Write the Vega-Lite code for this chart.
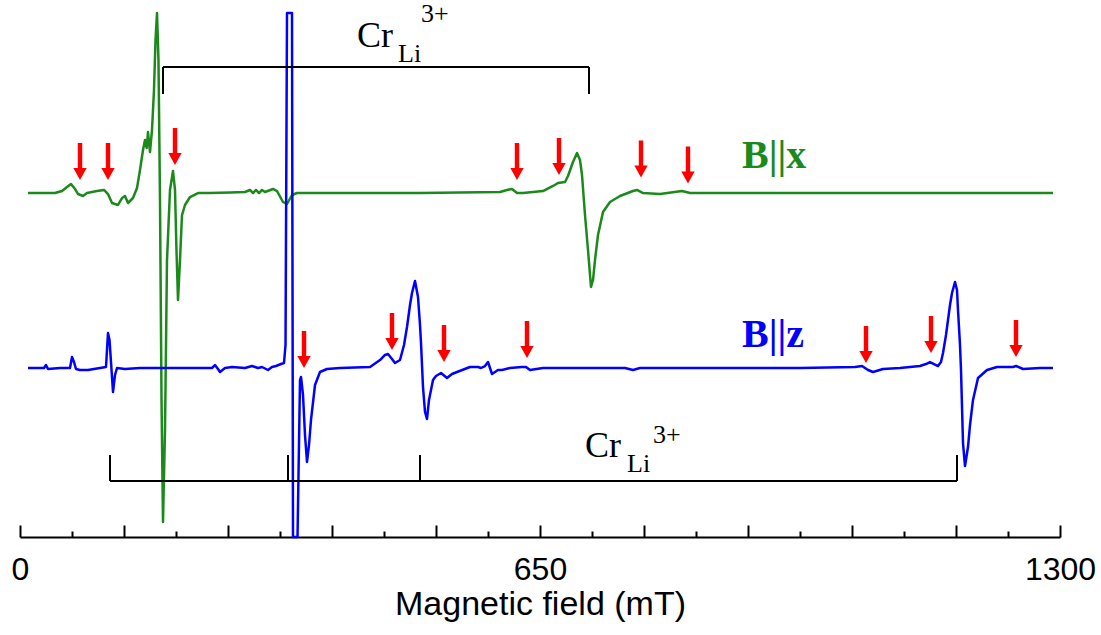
{
  "$schema": "https://vega.github.io/schema/vega-lite/v6.json",
  "width": 1040,
  "height": 525,
  "autosize": "none",
  "padding": {"left": 20, "top": 12, "right": 41, "bottom": 98},
  "config": {"view": {"stroke": null}},
  "datasets": {
    "spectra": [
      {"orientation": "B||x", "field": 10, "signal": 65.52},
      {"orientation": "B||x", "field": 43.75, "signal": 65.52},
      {"orientation": "B||x", "field": 52.5, "signal": 65.9},
      {"orientation": "B||x", "field": 58.75, "signal": 66.67},
      {"orientation": "B||x", "field": 63.75, "signal": 67.24},
      {"orientation": "B||x", "field": 68.75, "signal": 66.29},
      {"orientation": "B||x", "field": 72.5, "signal": 65.33},
      {"orientation": "B||x", "field": 78.75, "signal": 64.95},
      {"orientation": "B||x", "field": 83.75, "signal": 65.52},
      {"orientation": "B||x", "field": 90, "signal": 65.71},
      {"orientation": "B||x", "field": 96.25, "signal": 65.9},
      {"orientation": "B||x", "field": 105, "signal": 66.1},
      {"orientation": "B||x", "field": 110, "signal": 65.33},
      {"orientation": "B||x", "field": 115, "signal": 63.62},
      {"orientation": "B||x", "field": 122.5, "signal": 63.24},
      {"orientation": "B||x", "field": 127.5, "signal": 64.57},
      {"orientation": "B||x", "field": 131.25, "signal": 64.95},
      {"orientation": "B||x", "field": 135, "signal": 63.62},
      {"orientation": "B||x", "field": 141.25, "signal": 64.57},
      {"orientation": "B||x", "field": 146.25, "signal": 66.48},
      {"orientation": "B||x", "field": 150, "signal": 69.9},
      {"orientation": "B||x", "field": 153.75, "signal": 73.71},
      {"orientation": "B||x", "field": 156.25, "signal": 75.62},
      {"orientation": "B||x", "field": 158.4, "signal": 74.1},
      {"orientation": "B||x", "field": 160, "signal": 77.14},
      {"orientation": "B||x", "field": 162.5, "signal": 73.33},
      {"orientation": "B||x", "field": 165, "signal": 77.52},
      {"orientation": "B||x", "field": 167.5, "signal": 85.14},
      {"orientation": "B||x", "field": 169.4, "signal": 94.67},
      {"orientation": "B||x", "field": 171.25, "signal": 99.81},
      {"orientation": "B||x", "field": 173.1, "signal": 90.86},
      {"orientation": "B||x", "field": 175, "signal": 64.19},
      {"orientation": "B||x", "field": 176.9, "signal": 26.1},
      {"orientation": "B||x", "field": 178.75, "signal": 2.86},
      {"orientation": "B||x", "field": 181.25, "signal": 20.38},
      {"orientation": "B||x", "field": 183.75, "signal": 52.76},
      {"orientation": "B||x", "field": 187.5, "signal": 66.1},
      {"orientation": "B||x", "field": 191.25, "signal": 69.71},
      {"orientation": "B||x", "field": 193.75, "signal": 66.1},
      {"orientation": "B||x", "field": 195.6, "signal": 54.67},
      {"orientation": "B||x", "field": 197.5, "signal": 45.14},
      {"orientation": "B||x", "field": 200, "signal": 52.76},
      {"orientation": "B||x", "field": 202.5, "signal": 61.33},
      {"orientation": "B||x", "field": 206.25, "signal": 63.24},
      {"orientation": "B||x", "field": 212.5, "signal": 64.76},
      {"orientation": "B||x", "field": 222.5, "signal": 65.52},
      {"orientation": "B||x", "field": 237.5, "signal": 65.52},
      {"orientation": "B||x", "field": 262.5, "signal": 65.62},
      {"orientation": "B||x", "field": 281.25, "signal": 65.71},
      {"orientation": "B||x", "field": 287.5, "signal": 66.1},
      {"orientation": "B||x", "field": 291.25, "signal": 65.52},
      {"orientation": "B||x", "field": 295, "signal": 66.1},
      {"orientation": "B||x", "field": 298.75, "signal": 65.52},
      {"orientation": "B||x", "field": 302.5, "signal": 66.1},
      {"orientation": "B||x", "field": 306.25, "signal": 65.71},
      {"orientation": "B||x", "field": 316.25, "signal": 66.29},
      {"orientation": "B||x", "field": 321.25, "signal": 65.9},
      {"orientation": "B||x", "field": 328.75, "signal": 63.81},
      {"orientation": "B||x", "field": 333.75, "signal": 63.43},
      {"orientation": "B||x", "field": 340, "signal": 65.14},
      {"orientation": "B||x", "field": 346.25, "signal": 65.52},
      {"orientation": "B||x", "field": 387.5, "signal": 65.52},
      {"orientation": "B||x", "field": 500, "signal": 65.52},
      {"orientation": "B||x", "field": 600, "signal": 65.71},
      {"orientation": "B||x", "field": 608.75, "signal": 66.1},
      {"orientation": "B||x", "field": 615, "signal": 66.29},
      {"orientation": "B||x", "field": 621.25, "signal": 65.52},
      {"orientation": "B||x", "field": 628.75, "signal": 65.52},
      {"orientation": "B||x", "field": 641.25, "signal": 65.71},
      {"orientation": "B||x", "field": 653.75, "signal": 65.9},
      {"orientation": "B||x", "field": 666.25, "signal": 66.86},
      {"orientation": "B||x", "field": 672.5, "signal": 67.43},
      {"orientation": "B||x", "field": 681.25, "signal": 67.62},
      {"orientation": "B||x", "field": 685, "signal": 68.76},
      {"orientation": "B||x", "field": 691.25, "signal": 71.43},
      {"orientation": "B||x", "field": 696.25, "signal": 73.14},
      {"orientation": "B||x", "field": 700, "signal": 71.81},
      {"orientation": "B||x", "field": 702.5, "signal": 68.95},
      {"orientation": "B||x", "field": 706.25, "signal": 61.33},
      {"orientation": "B||x", "field": 710, "signal": 54.67},
      {"orientation": "B||x", "field": 713.75, "signal": 47.62},
      {"orientation": "B||x", "field": 716.25, "signal": 48.95},
      {"orientation": "B||x", "field": 718.75, "signal": 52.76},
      {"orientation": "B||x", "field": 722.5, "signal": 57.52},
      {"orientation": "B||x", "field": 728.75, "signal": 61.9},
      {"orientation": "B||x", "field": 737.5, "signal": 63.81},
      {"orientation": "B||x", "field": 750, "signal": 64.95},
      {"orientation": "B||x", "field": 766.25, "signal": 65.9},
      {"orientation": "B||x", "field": 771.25, "signal": 66.1},
      {"orientation": "B||x", "field": 778.75, "signal": 65.52},
      {"orientation": "B||x", "field": 800, "signal": 65.33},
      {"orientation": "B||x", "field": 827.5, "signal": 65.9},
      {"orientation": "B||x", "field": 837.5, "signal": 65.52},
      {"orientation": "B||x", "field": 975, "signal": 65.52},
      {"orientation": "B||x", "field": 1291.25, "signal": 65.52},

      {"orientation": "B||z", "field": 10, "signal": 32.19},
      {"orientation": "B||z", "field": 30, "signal": 32.19},
      {"orientation": "B||z", "field": 32.5, "signal": 32.76},
      {"orientation": "B||z", "field": 35, "signal": 32.0},
      {"orientation": "B||z", "field": 50, "signal": 32.19},
      {"orientation": "B||z", "field": 62.5, "signal": 32.19},
      {"orientation": "B||z", "field": 65, "signal": 34.29},
      {"orientation": "B||z", "field": 67.5, "signal": 33.33},
      {"orientation": "B||z", "field": 70, "signal": 32.0},
      {"orientation": "B||z", "field": 75, "signal": 31.81},
      {"orientation": "B||z", "field": 85, "signal": 31.81},
      {"orientation": "B||z", "field": 100, "signal": 32.19},
      {"orientation": "B||z", "field": 107.5, "signal": 32.38},
      {"orientation": "B||z", "field": 110, "signal": 38.86},
      {"orientation": "B||z", "field": 111.9, "signal": 37.52},
      {"orientation": "B||z", "field": 113.75, "signal": 33.33},
      {"orientation": "B||z", "field": 116.25, "signal": 27.62},
      {"orientation": "B||z", "field": 118.75, "signal": 30.86},
      {"orientation": "B||z", "field": 121.25, "signal": 32.19},
      {"orientation": "B||z", "field": 131.25, "signal": 32.0},
      {"orientation": "B||z", "field": 150, "signal": 32.19},
      {"orientation": "B||z", "field": 175, "signal": 32.19},
      {"orientation": "B||z", "field": 212.5, "signal": 32.19},
      {"orientation": "B||z", "field": 240, "signal": 32.19},
      {"orientation": "B||z", "field": 243.75, "signal": 32.76},
      {"orientation": "B||z", "field": 247.5, "signal": 32.0},
      {"orientation": "B||z", "field": 250, "signal": 31.43},
      {"orientation": "B||z", "field": 256.25, "signal": 32.19},
      {"orientation": "B||z", "field": 265, "signal": 32.38},
      {"orientation": "B||z", "field": 281.25, "signal": 32.19},
      {"orientation": "B||z", "field": 290, "signal": 32.57},
      {"orientation": "B||z", "field": 297.5, "signal": 32.19},
      {"orientation": "B||z", "field": 302.5, "signal": 32.38},
      {"orientation": "B||z", "field": 310, "signal": 31.81},
      {"orientation": "B||z", "field": 315, "signal": 32.38},
      {"orientation": "B||z", "field": 320, "signal": 32.57},
      {"orientation": "B||z", "field": 326.25, "signal": 32.95},
      {"orientation": "B||z", "field": 330, "signal": 33.14},
      {"orientation": "B||z", "field": 331.9, "signal": 36.57},
      {"orientation": "B||z", "field": 333.75, "signal": 99.81},
      {"orientation": "B||z", "field": 340, "signal": 99.81},
      {"orientation": "B||z", "field": 341.25, "signal": 0},
      {"orientation": "B||z", "field": 346.9, "signal": 0},
      {"orientation": "B||z", "field": 350, "signal": 29.9},
      {"orientation": "B||z", "field": 351.25, "signal": 30.48},
      {"orientation": "B||z", "field": 353.75, "signal": 27.05},
      {"orientation": "B||z", "field": 356.25, "signal": 19.43},
      {"orientation": "B||z", "field": 358.75, "signal": 14.29},
      {"orientation": "B||z", "field": 361.25, "signal": 17.52},
      {"orientation": "B||z", "field": 363.75, "signal": 22.29},
      {"orientation": "B||z", "field": 368.75, "signal": 28.95},
      {"orientation": "B||z", "field": 375, "signal": 31.43},
      {"orientation": "B||z", "field": 383.75, "signal": 32.0},
      {"orientation": "B||z", "field": 400, "signal": 32.19},
      {"orientation": "B||z", "field": 437.5, "signal": 32.38},
      {"orientation": "B||z", "field": 450, "signal": 33.71},
      {"orientation": "B||z", "field": 456.25, "signal": 34.67},
      {"orientation": "B||z", "field": 460, "signal": 34.86},
      {"orientation": "B||z", "field": 465, "signal": 33.9},
      {"orientation": "B||z", "field": 468.75, "signal": 33.14},
      {"orientation": "B||z", "field": 475, "signal": 33.71},
      {"orientation": "B||z", "field": 480, "signal": 36.57},
      {"orientation": "B||z", "field": 483.75, "signal": 40.0},
      {"orientation": "B||z", "field": 487.5, "signal": 44.19},
      {"orientation": "B||z", "field": 490, "signal": 46.48},
      {"orientation": "B||z", "field": 493.75, "signal": 48.76},
      {"orientation": "B||z", "field": 497.5, "signal": 45.71},
      {"orientation": "B||z", "field": 500, "signal": 40.38},
      {"orientation": "B||z", "field": 501.25, "signal": 36.95},
      {"orientation": "B||z", "field": 503.75, "signal": 28.57},
      {"orientation": "B||z", "field": 506.25, "signal": 23.81},
      {"orientation": "B||z", "field": 508.75, "signal": 22.48},
      {"orientation": "B||z", "field": 511.25, "signal": 26.1},
      {"orientation": "B||z", "field": 516.25, "signal": 29.9},
      {"orientation": "B||z", "field": 520, "signal": 30.67},
      {"orientation": "B||z", "field": 526.25, "signal": 31.24},
      {"orientation": "B||z", "field": 533.75, "signal": 30.29},
      {"orientation": "B||z", "field": 540, "signal": 31.05},
      {"orientation": "B||z", "field": 546.25, "signal": 31.43},
      {"orientation": "B||z", "field": 562.5, "signal": 32.38},
      {"orientation": "B||z", "field": 572.5, "signal": 32.38},
      {"orientation": "B||z", "field": 576.25, "signal": 32.19},
      {"orientation": "B||z", "field": 581.25, "signal": 32.57},
      {"orientation": "B||z", "field": 585, "signal": 33.33},
      {"orientation": "B||z", "field": 587.5, "signal": 32.19},
      {"orientation": "B||z", "field": 590, "signal": 31.05},
      {"orientation": "B||z", "field": 593.75, "signal": 31.43},
      {"orientation": "B||z", "field": 597.5, "signal": 31.81},
      {"orientation": "B||z", "field": 602.5, "signal": 31.81},
      {"orientation": "B||z", "field": 612.5, "signal": 32.19},
      {"orientation": "B||z", "field": 627.5, "signal": 32.38},
      {"orientation": "B||z", "field": 632.5, "signal": 32.38},
      {"orientation": "B||z", "field": 637.5, "signal": 31.81},
      {"orientation": "B||z", "field": 653.75, "signal": 32.19},
      {"orientation": "B||z", "field": 725, "signal": 32.19},
      {"orientation": "B||z", "field": 756.25, "signal": 32.19},
      {"orientation": "B||z", "field": 766.25, "signal": 31.81},
      {"orientation": "B||z", "field": 775, "signal": 32.19},
      {"orientation": "B||z", "field": 850, "signal": 32.19},
      {"orientation": "B||z", "field": 975, "signal": 32.19},
      {"orientation": "B||z", "field": 1043.75, "signal": 32.38},
      {"orientation": "B||z", "field": 1052.5, "signal": 32.57},
      {"orientation": "B||z", "field": 1060, "signal": 31.81},
      {"orientation": "B||z", "field": 1066.25, "signal": 31.43},
      {"orientation": "B||z", "field": 1078.75, "signal": 32.0},
      {"orientation": "B||z", "field": 1100, "signal": 32.19},
      {"orientation": "B||z", "field": 1125, "signal": 32.57},
      {"orientation": "B||z", "field": 1132.5, "signal": 32.95},
      {"orientation": "B||z", "field": 1137.5, "signal": 33.33},
      {"orientation": "B||z", "field": 1142.5, "signal": 32.95},
      {"orientation": "B||z", "field": 1147.5, "signal": 32.57},
      {"orientation": "B||z", "field": 1151.25, "signal": 33.33},
      {"orientation": "B||z", "field": 1153.75, "signal": 35.05},
      {"orientation": "B||z", "field": 1157.5, "signal": 38.48},
      {"orientation": "B||z", "field": 1160, "signal": 41.33},
      {"orientation": "B||z", "field": 1162.5, "signal": 44.19},
      {"orientation": "B||z", "field": 1165, "signal": 46.48},
      {"orientation": "B||z", "field": 1168.75, "signal": 48.57},
      {"orientation": "B||z", "field": 1171.25, "signal": 47.05},
      {"orientation": "B||z", "field": 1172.5, "signal": 43.24},
      {"orientation": "B||z", "field": 1175, "signal": 36.57},
      {"orientation": "B||z", "field": 1176.25, "signal": 31.81},
      {"orientation": "B||z", "field": 1178.75, "signal": 17.9},
      {"orientation": "B||z", "field": 1181.25, "signal": 13.52},
      {"orientation": "B||z", "field": 1185, "signal": 17.14},
      {"orientation": "B||z", "field": 1187.5, "signal": 21.33},
      {"orientation": "B||z", "field": 1191.25, "signal": 26.1},
      {"orientation": "B||z", "field": 1197.5, "signal": 30.29},
      {"orientation": "B||z", "field": 1208.75, "signal": 31.81},
      {"orientation": "B||z", "field": 1221.25, "signal": 32.38},
      {"orientation": "B||z", "field": 1241.25, "signal": 32.38},
      {"orientation": "B||z", "field": 1245, "signal": 32.57},
      {"orientation": "B||z", "field": 1253.75, "signal": 32.0},
      {"orientation": "B||z", "field": 1275, "signal": 32.19},
      {"orientation": "B||z", "field": 1291.25, "signal": 32.19}
    ],
    "arrows": [
      {"orientation": "B||x", "field": 75, "signal": 68.0},
      {"orientation": "B||x", "field": 110, "signal": 68.0},
      {"orientation": "B||x", "field": 193.75, "signal": 70.86},
      {"orientation": "B||x", "field": 621.25, "signal": 68.0},
      {"orientation": "B||x", "field": 673.75, "signal": 68.95},
      {"orientation": "B||x", "field": 776.25, "signal": 68.48},
      {"orientation": "B||x", "field": 835, "signal": 67.33},
      {"orientation": "B||z", "field": 355, "signal": 32.19},
      {"orientation": "B||z", "field": 465, "signal": 35.62},
      {"orientation": "B||z", "field": 530, "signal": 33.33},
      {"orientation": "B||z", "field": 633.75, "signal": 34.1},
      {"orientation": "B||z", "field": 1057.5, "signal": 33.14},
      {"orientation": "B||z", "field": 1138.75, "signal": 35.05},
      {"orientation": "B||z", "field": 1245, "signal": 34.29}
    ],
    "bracketSpans": [
      {"bracket": "B||x", "field": 178.75, "field_end": 711.25, "signal": 89.52},
      {"bracket": "B||z", "field": 112.5, "field_end": 1171.25, "signal": 10.67}
    ],
    "bracketLegs": [
      {"bracket": "B||x", "field": 178.75, "signal": 89.52, "signal_end": 84.38},
      {"bracket": "B||x", "field": 711.25, "signal": 89.52, "signal_end": 84.38},
      {"bracket": "B||z", "field": 112.5, "signal": 10.67, "signal_end": 15.62},
      {"bracket": "B||z", "field": 335, "signal": 10.67, "signal_end": 15.62},
      {"bracket": "B||z", "field": 500, "signal": 10.67, "signal_end": 15.62},
      {"bracket": "B||z", "field": 1171.25, "signal": 10.67, "signal_end": 15.62}
    ],
    "siteLabels": [
      {"part": "main", "text": "Cr", "field": 421.25, "signal": 93.33},
      {"part": "script", "text": "Li", "field": 472.5, "signal": 90.48},
      {"part": "script", "text": "3+", "field": 501.25, "signal": 98.1},
      {"part": "main", "text": "Cr", "field": 706.25, "signal": 15.24},
      {"part": "script", "text": "Li", "field": 758.75, "signal": 12.38},
      {"part": "script", "text": "3+", "field": 791.25, "signal": 17.9}
    ],
    "orientationLabels": [
      {"orientation": "B||x", "field": 902.5, "signal": 70.29},
      {"orientation": "B||z", "field": 902.5, "signal": 36.19}
    ]
  },
  "layer": [
    {
      "data": {"name": "spectra"},
      "mark": {"type": "line", "strokeWidth": 2.5, "strokeJoin": "round", "interpolate": "linear"},
      "encoding": {
        "x": {
          "field": "field",
          "type": "quantitative",
          "title": "Magnetic field (mT)",
          "scale": {"domain": [0, 1300], "nice": false, "zero": false},
          "axis": {
            "values": [0, 65, 130, 195, 260, 325, 390, 455, 520, 585, 650, 715, 780, 845, 910, 975, 1040, 1105, 1170, 1235, 1300],
            "format": "d",
            "labelExpr": "datum.value % 650 === 0 ? datum.label : ''",
            "labelFlush": false,
            "labelOverlap": false,
            "labelFont": "Liberation Sans",
            "labelFontSize": 32,
            "labelColor": "black",
            "labelPadding": 29,
            "tickSize": {"condition": {"test": "datum.value % 130 === 0", "value": -12}, "value": -6},
            "tickWidth": 2,
            "tickColor": "black",
            "domainWidth": 2,
            "domainColor": "black",
            "grid": false,
            "titleFont": "Liberation Sans",
            "titleFontSize": 34,
            "titleFontWeight": "normal",
            "titleColor": "black",
            "titleBaseline": "alphabetic",
            "titleY": 77
          }
        },
        "y": {"field": "signal", "type": "quantitative", "scale": {"domain": [0, 100]}, "axis": null},
        "color": {
          "field": "orientation",
          "type": "nominal",
          "scale": {"domain": ["B||x", "B||z"], "range": ["#1b8a1b", "#0000ff"]},
          "legend": null
        }
      }
    },
    {
      "data": {"name": "bracketSpans"},
      "mark": {"type": "rule", "color": "black", "strokeWidth": 2},
      "encoding": {
        "x": {"field": "field", "type": "quantitative", "title": "Magnetic field (mT)"},
        "x2": {"field": "field_end"},
        "y": {"field": "signal", "type": "quantitative", "axis": null}
      }
    },
    {
      "data": {"name": "bracketLegs"},
      "mark": {"type": "rule", "color": "black", "strokeWidth": 2},
      "encoding": {
        "x": {"field": "field", "type": "quantitative", "title": "Magnetic field (mT)"},
        "y": {"field": "signal", "type": "quantitative", "axis": null},
        "y2": {"field": "signal_end"}
      }
    },
    {
      "data": {"name": "arrows"},
      "mark": {
        "type": "point",
        "shape": "M-0.12,-2L0.12,-2L0.12,-0.65L0.36,-0.65L0,0L-0.36,-0.65L-0.12,-0.65Z",
        "size": 1369,
        "filled": true,
        "color": "#ff0000",
        "opacity": 1,
        "strokeWidth": 0
      },
      "encoding": {
        "x": {"field": "field", "type": "quantitative", "title": "Magnetic field (mT)"},
        "y": {"field": "signal", "type": "quantitative", "axis": null}
      }
    },
    {
      "data": {"name": "siteLabels"},
      "transform": [{"filter": "datum.part === 'main'"}],
      "mark": {"type": "text", "font": "Liberation Serif", "fontSize": 36, "align": "left", "baseline": "alphabetic", "color": "black"},
      "encoding": {
        "x": {"field": "field", "type": "quantitative", "title": "Magnetic field (mT)"},
        "y": {"field": "signal", "type": "quantitative", "axis": null},
        "text": {"field": "text"}
      }
    },
    {
      "data": {"name": "siteLabels"},
      "transform": [{"filter": "datum.part === 'script'"}],
      "mark": {"type": "text", "font": "Liberation Serif", "fontSize": 26, "align": "left", "baseline": "alphabetic", "color": "black"},
      "encoding": {
        "x": {"field": "field", "type": "quantitative", "title": "Magnetic field (mT)"},
        "y": {"field": "signal", "type": "quantitative", "axis": null},
        "text": {"field": "text"}
      }
    },
    {
      "data": {"name": "orientationLabels"},
      "mark": {"type": "text", "font": "Liberation Serif", "fontSize": 40, "fontWeight": "bold", "align": "left", "baseline": "alphabetic"},
      "encoding": {
        "x": {"field": "field", "type": "quantitative", "title": "Magnetic field (mT)"},
        "y": {"field": "signal", "type": "quantitative", "axis": null},
        "text": {"field": "orientation"},
        "color": {"field": "orientation", "type": "nominal", "legend": null}
      }
    }
  ]
}
